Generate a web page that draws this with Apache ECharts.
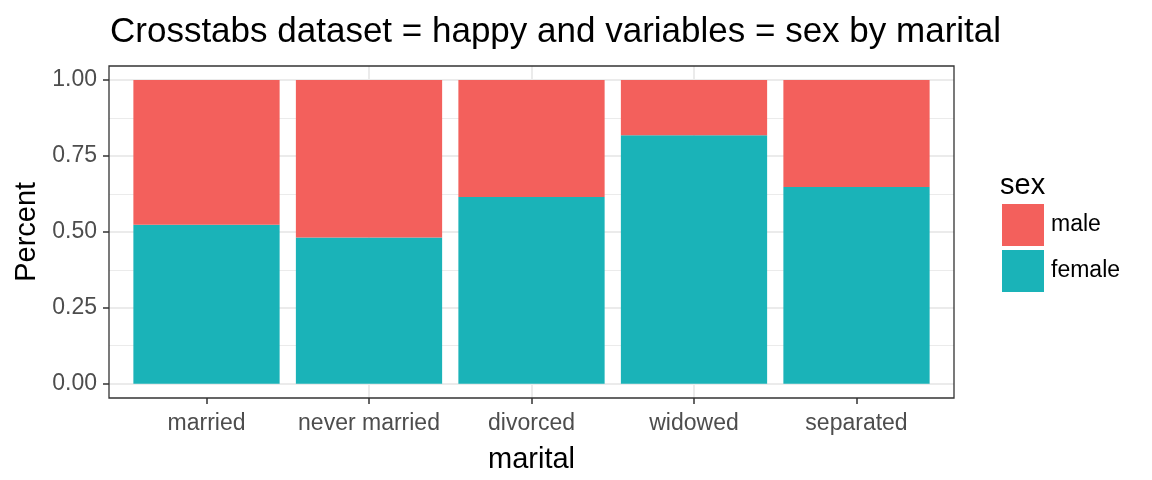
<!DOCTYPE html>
<html lang="en">
    <head>
        <meta charset="utf-8">
        <title>Crosstabs happy sex by marital</title>
        <script src="https://cdn.jsdelivr.net/npm/echarts@6/dist/echarts.min.js"></script>
    </head>

    <body style="margin:0; background:#fff;">
        <div id="echart" style="width: 1152px; height: 480px;"></div>
        <script>
            let categories = ['married', 'never married', 'divorced', 'widowed', 'separated'];
            let female = [0.523, 0.481, 0.615, 0.818, 0.648];
            let male = [0.477, 0.519, 0.385, 0.182, 0.352];
            let yTicks = [0, 0.25, 0.5, 0.75, 1];
            let positions = categories.map((c, i) => i + 1);

            let font = 'Liberation Sans, Arial, Helvetica, sans-serif';
            let myChart = echarts.init(document.getElementById('echart'));

            let option = {
                animation: false,
                textStyle: { fontFamily: font },
                title: [
                    {
                        text: 'Crosstabs dataset = happy and variables = sex by marital',
                        left: 110,
                        top: 15,
                        padding: 0,
                        textStyle: { fontSize: 35, fontWeight: 'normal', color: '#000', fontFamily: font }
                    },
                    {
                        text: 'sex',
                        left: 1000,
                        top: 171,
                        padding: 0,
                        textStyle: { fontSize: 29, fontWeight: 'normal', color: '#000', fontFamily: font }
                    }
                ],
                legend: {
                    data: ['male', 'female'],
                    orient: 'vertical',
                    left: 1002,
                    top: 204,
                    padding: 0,
                    itemWidth: 42,
                    itemHeight: 42,
                    itemGap: 4,
                    icon: 'rect',
                    textStyle: { fontSize: 23, color: '#000', padding: [4, 0, 0, 2], fontFamily: font }
                },
                grid: [
                    // panel: border + vertical grid lines + x labels
                    { left: 109, top: 66, width: 845, height: 332, show: true, borderColor: '#333', borderWidth: 1.3, backgroundColor: 'transparent', z: 10 },
                    // horizontal grid lines + y labels (ggplot expansion removed)
                    { left: 109, top: 80, width: 845, height: 303.7 },
                    // bars
                    { left: 125.25, top: 80, width: 812.5, height: 303.7 }
                ],
                xAxis: [
                    {
                        gridIndex: 0,
                        type: 'value',
                        min: 0.4,
                        max: 5.6,
                        name: 'marital',
                        nameLocation: 'middle',
                        nameGap: 47,
                        nameTextStyle: { fontSize: 29, color: '#000', fontFamily: font },
                        axisLine: { show: false },
                        axisTick: { show: true, customValues: positions, length: 6, lineStyle: { color: '#333', width: 1.5 } },
                        axisLabel: {
                            customValues: positions,
                            formatter: v => categories[Math.round(v) - 1] || '',
                            fontSize: 23,
                            color: '#4d4d4d',
                            margin: 14
                        },
                        splitLine: { show: true, showMinLine: false, showMaxLine: false, lineStyle: { color: '#ebebeb', width: 2 } }
                    },
                    {
                        gridIndex: 1,
                        type: 'value',
                        min: 0.4,
                        max: 5.6,
                        show: false,
                        splitLine: { show: false }
                    },
                    {
                        gridIndex: 2,
                        type: 'category',
                        data: categories,
                        show: false
                    }
                ],
                yAxis: [
                    {
                        gridIndex: 0,
                        type: 'value',
                        show: false,
                        splitLine: { show: false }
                    },
                    {
                        gridIndex: 1,
                        type: 'value',
                        min: yTicks[0],
                        max: yTicks[yTicks.length - 1],
                        interval: 0.25,
                        name: 'Percent',
                        nameLocation: 'middle',
                        nameGap: 65,
                        nameTextStyle: { fontSize: 29, color: '#000', fontFamily: font },
                        axisLine: { show: false },
                        axisTick: { show: true, length: 6, lineStyle: { color: '#333', width: 1.5 } },
                        axisLabel: { formatter: v => v.toFixed(2), fontSize: 23, color: '#4d4d4d', margin: 12 },
                        splitLine: { show: true, lineStyle: { color: '#ebebeb', width: 2 } },
                        minorTick: { show: false, splitNumber: 2 },
                        minorSplitLine: { show: true, lineStyle: { color: '#ebebeb', width: 1 } }
                    },
                    {
                        gridIndex: 2,
                        type: 'value',
                        min: yTicks[0],
                        max: yTicks[yTicks.length - 1],
                        show: false,
                        splitLine: { show: false }
                    }
                ],
                series: [
                    {
                        name: 'female',
                        type: 'bar',
                        stack: 'sex',
                        xAxisIndex: 2,
                        yAxisIndex: 2,
                        barCategoryGap: '10%',
                        itemStyle: { color: '#1AB3B8' },
                        data: female
                    },
                    {
                        name: 'male',
                        type: 'bar',
                        stack: 'sex',
                        xAxisIndex: 2,
                        yAxisIndex: 2,
                        barCategoryGap: '10%',
                        itemStyle: { color: '#F3605C' },
                        data: male
                    }
                ]
            };
            myChart.setOption(option);
        </script>
    </body>
</html>
